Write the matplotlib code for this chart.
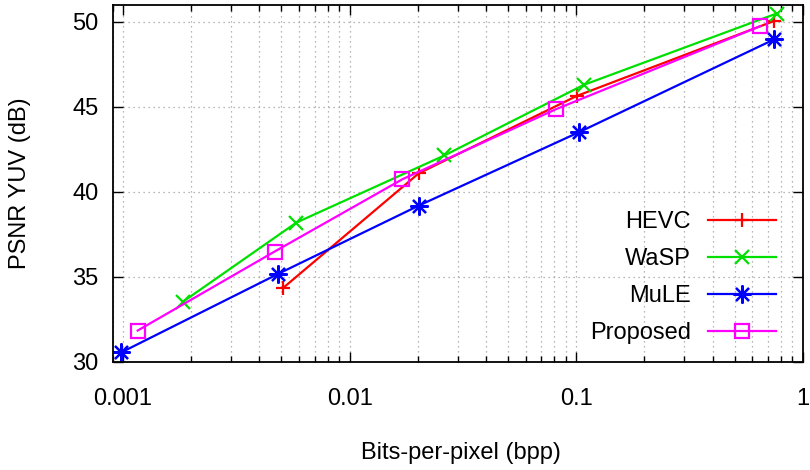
import matplotlib
matplotlib.use("Agg")
import matplotlib.pyplot as plt
from matplotlib.ticker import LogLocator, FixedLocator, NullFormatter, FixedFormatter

plt.rcParams['font.family'] = ['Liberation Sans', 'DejaVu Sans']

# Data (bpp, PSNR YUV dB)
hevc_bpp = [0.00508, 0.0202, 0.1006, 0.745]
hevc_psnr = [34.35, 41.1, 45.65, 50.05]
wasp_bpp = [0.00184, 0.00582, 0.0262, 0.108, 0.767]
wasp_psnr = [33.55, 38.2, 42.15, 46.3, 50.5]
mule_bpp = [0.000984, 0.00483, 0.0202, 0.1034, 0.749]
mule_psnr = [30.57, 35.18, 39.2, 43.53, 48.98]
prop_bpp = [0.00116, 0.00467, 0.0171, 0.0811, 0.648]
prop_psnr = [31.85, 36.5, 40.75, 44.86, 49.75]

series_names = ["HEVC", "WaSP", "MuLE", "Proposed"]
xtick_vals = [0.001, 0.01, 0.1, 1]
xtick_labels = ["0.001", "0.01", "0.1", "1"]
ytick_vals = [30, 35, 40, 45, 50]

FS = 17

fig = plt.figure(figsize=(8.1, 4.7), dpi=100)
ax = fig.add_axes([112.7/810, 1-362/470, 690/810, 357/470])

lw = 1.6
ax.plot(hevc_bpp, hevc_psnr, color='#ff0000', lw=lw, marker='+', ms=10, mew=1.6, label=series_names[0])
ax.plot(wasp_bpp, wasp_psnr, color='#00e000', lw=lw, marker='x', ms=9.5, mew=1.6, label=series_names[1])
ax.plot(mule_bpp, mule_psnr, color='#0000ff', lw=lw, marker=(8, 2, 0), ms=13, mew=1.6, label=series_names[2])
ax.plot(prop_bpp, prop_psnr, color='#ff00ff', lw=lw, marker='s', ms=10.5, mew=1.6, mfc='none', label=series_names[3])

ax.set_xscale('log')
ax.set_xlim(0.0009, 1.0)
ax.set_ylim(30, 51)

ax.xaxis.set_major_locator(FixedLocator(xtick_vals))
ax.xaxis.set_major_formatter(FixedFormatter(xtick_labels))
ax.xaxis.set_minor_locator(LogLocator(base=10, subs=range(2, 10), numticks=20))
ax.xaxis.set_minor_formatter(NullFormatter())
ax.set_yticks(ytick_vals)

ax.tick_params(axis='both', which='both', direction='in', top=True, right=True, labelsize=FS, width=1.0)
ax.tick_params(axis='both', which='major', length=7)
ax.tick_params(axis='x', which='minor', length=4.5)
ax.tick_params(axis='x', which='major', pad=19)
ax.tick_params(axis='y', which='major', pad=10)

ax.grid(True, which='major', axis='both', color='#a0a0a0', linestyle=(0, (1, 3)), lw=0.9)
ax.grid(True, which='minor', axis='x', color='#a0a0a0', linestyle=(0, (1, 3)), lw=0.9)
ax.set_axisbelow(True)

for s in ax.spines.values():
    s.set_linewidth(1.3)

fig.text(461/810, 1-453/470, "Bits-per-pixel (bpp)", ha='center', va='center', fontsize=FS)
fig.text(20/810, 1-183/470, "PSNR YUV (dB)", ha='center', va='center', rotation=90, fontsize=FS)

leg = ax.legend(loc='lower right', bbox_to_anchor=((776-112.7)/690, (362-344)/357),
                frameon=False, markerfirst=False, fontsize=FS, handlelength=2.9,
                handletextpad=0.7, labelspacing=0.63, borderpad=0, borderaxespad=0)
for t in leg.get_texts():
    t.set_ha('right')

fig.savefig("out.png", dpi=100)
